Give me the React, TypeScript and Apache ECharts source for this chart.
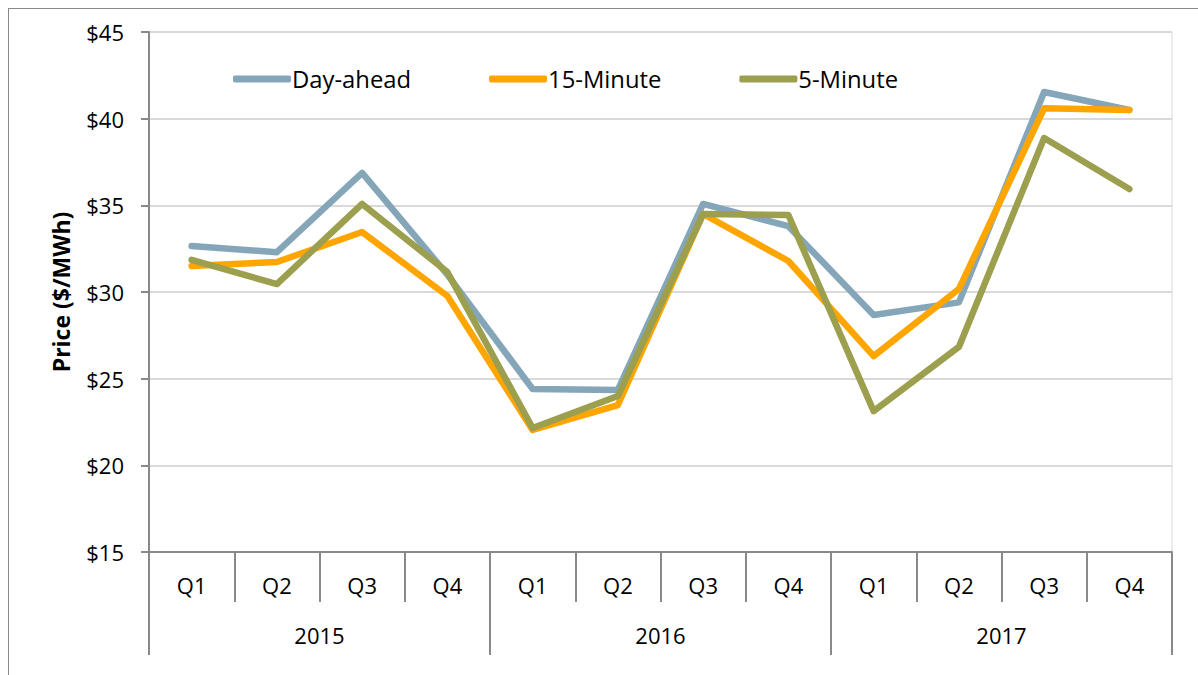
import React, { useEffect, useRef } from "react";
import * as echarts from "echarts";

const quarters = ["Q1", "Q2", "Q3", "Q4", "Q1", "Q2", "Q3", "Q4", "Q1", "Q2", "Q3", "Q4"];
const years = ["2015", "2016", "2017"];
const dayAhead = [32.65, 32.3, 36.87, 31.0, 24.4, 24.35, 35.08, 33.8, 28.67, 29.4, 41.54, 40.5];
const fifteenMinute = [31.5, 31.73, 33.46, 29.77, 22.04, 23.48, 34.5, 31.79, 26.3, 30.17, 40.6, 40.5];
const fiveMinute = [31.85, 30.46, 35.08, 31.15, 22.15, 24.0, 34.5, 34.44, 23.13, 26.83, 38.88, 35.94];

const FONT = "Open Sans";

export default function App() {
  const ref = useRef<HTMLDivElement>(null);
  useEffect(() => {
    if (!ref.current) return;
    const chart = echarts.init(ref.current, undefined, { renderer: "svg" });
    const lineStyle = (c: string) => ({ color: c, width: 6.5, cap: "round", join: "round" });
    chart.setOption({
      animation: false,
      textStyle: { fontFamily: FONT },
      graphic: [
        { type: "line", shape: { x1: 8.5, y1: 8, x2: 8.5, y2: 675 }, style: { stroke: "#898989", lineWidth: 1 } },
        { type: "line", shape: { x1: 8, y1: 8.5, x2: 1198, y2: 8.5 }, style: { stroke: "#898989", lineWidth: 1 } },
      ],
      legend: {
        top: 62,
        left: 228,
        itemWidth: 58,
        itemHeight: 7,
        itemGap: 78,
        icon: "roundRect",
        textStyle: { fontFamily: FONT, fontSize: 23.8, color: "#000", padding: [0, 0, 0, -4] },
        data: ["Day-ahead", "15-Minute", "5-Minute"],
      },
      grid: {
        left: 149,
        top: 32,
        right: 26,
        bottom: 123,
        show: true,
        borderColor: "#d9d9d9",
        borderWidth: 1,
      },
      xAxis: [
        {
          type: "category",
          data: quarters,
          boundaryGap: true,
          axisLine: { lineStyle: { color: "#898989", width: 2 } },
          axisTick: { show: true, length: 50, lineStyle: { color: "#898989", width: 2 } },
          axisLabel: { fontFamily: FONT, fontSize: 22, color: "#000", margin: 22 },
        },
        {
          type: "category",
          data: years,
          position: "bottom",
          boundaryGap: true,
          axisLine: { show: false },
          axisTick: { show: true, length: 103, lineStyle: { color: "#898989", width: 2 } },
          axisLabel: { fontFamily: FONT, fontSize: 22, color: "#000", margin: 72 },
        },
      ],
      yAxis: {
        type: "value",
        min: 15,
        max: 45,
        interval: 5,
        name: "Price ($/MWh)",
        nameLocation: "middle",
        nameGap: 77,
        nameTextStyle: { fontFamily: FONT, fontSize: 23, fontWeight: "bold", color: "#000" },
        axisLine: { show: true, lineStyle: { color: "#898989", width: 2 } },
        axisTick: { show: true, length: 8, lineStyle: { color: "#898989", width: 2 } },
        axisLabel: { fontFamily: FONT, fontSize: 22, color: "#000", margin: 25, formatter: (v: number) => "$" + v },
        splitLine: { show: true, lineStyle: { color: "#d9d9d9", width: 2 } },
      },
      series: [
        { name: "Day-ahead", type: "line", data: dayAhead, symbol: "none", color: "#84A6B8", lineStyle: lineStyle("#84A6B8") },
        { name: "15-Minute", type: "line", data: fifteenMinute, symbol: "none", color: "#FFA500", lineStyle: lineStyle("#FFA500") },
        { name: "5-Minute", type: "line", data: fiveMinute, symbol: "none", color: "#9C9F4D", lineStyle: lineStyle("#9C9F4D") },
      ],
    });
    return () => chart.dispose();
  }, []);
  return <div ref={ref} style={{ position: "absolute", left: 0, top: 0, width: 1198, height: 675, background: "#fff" }} />;
}
